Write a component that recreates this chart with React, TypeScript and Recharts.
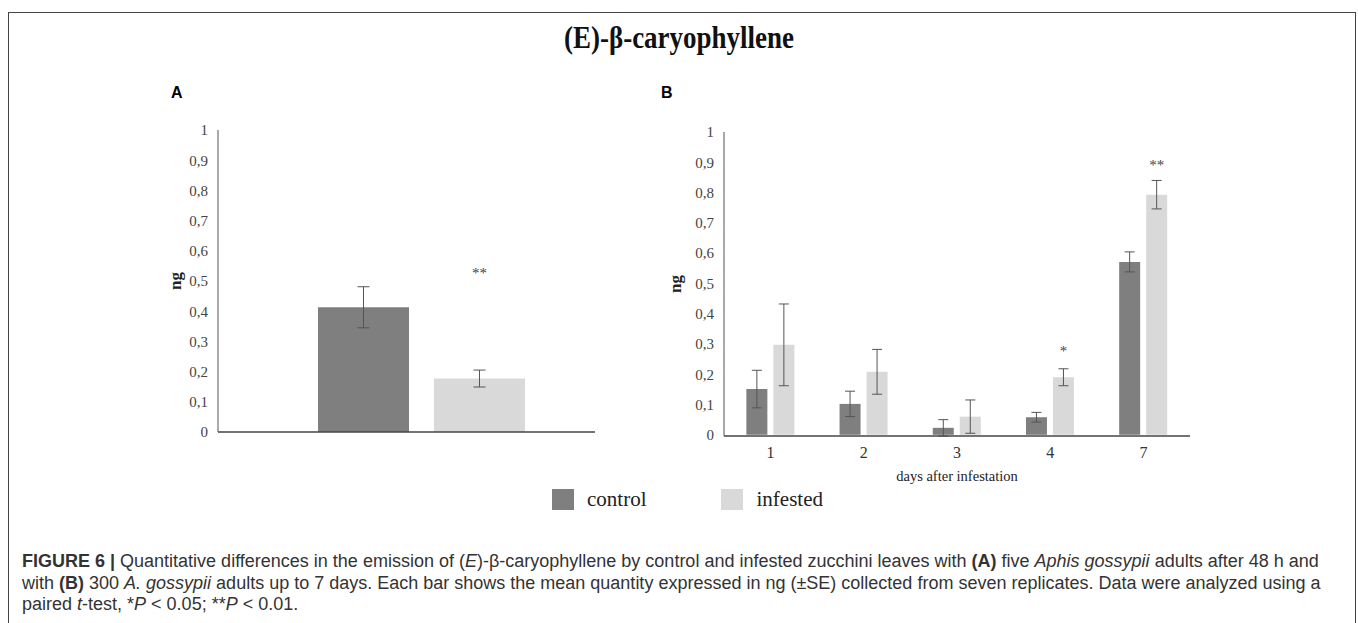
import { BarChart, Bar, XAxis, YAxis, ErrorBar, LabelList } from "recharts";

// panel A: single time point (48 h)
const panelACategories = ["48 h"];
const panelAControl = [0.413];
const panelAControlSE = [0.068];
const panelAInfested = [0.177];
const panelAInfestedSE = [0.028];
const panelASig = ["**"];
const panelASigY = [0.525];

// panel B: days after infestation
const panelBDays = ["1", "2", "3", "4", "7"];
const panelBControl = [0.151, 0.102, 0.023, 0.058, 0.571];
const panelBControlSE = [0.062, 0.042, 0.027, 0.016, 0.033];
const panelBInfested = [0.297, 0.208, 0.06, 0.19, 0.793];
const panelBInfestedSE = [0.135, 0.074, 0.055, 0.028, 0.047];
const panelBSig = ["", "", "", "*", "**"];
const panelBSigY = [0, 0, 0, 0.277, 0.89];

const yTicks = [0, 0.1, 0.2, 0.3, 0.4, 0.5, 0.6, 0.7, 0.8, 0.9, 1];
const seriesNames = ["control", "infested"];
const seriesColors = ["#7f7f7f", "#d9d9d9"];

const serif = "'Liberation Serif', 'Times New Roman', serif";
const sans = "'Liberation Sans', Arial, sans-serif";

const fmtTick = (v: number) =>
  v === 0 || v === 1 ? String(v) : v.toFixed(1).replace(".", ",");

const buildRows = (
  cats: string[],
  c: number[],
  cse: number[],
  inf: number[],
  ise: number[],
  sig: string[]
) =>
  cats.map((cat, i) => ({
    cat,
    control: c[i],
    controlSE: cse[i],
    infested: inf[i],
    infestedSE: ise[i],
    sig: sig[i],
  }));

const dataA = buildRows(
  panelACategories,
  panelAControl,
  panelAControlSE,
  panelAInfested,
  panelAInfestedSE,
  panelASig
);
const dataB = buildRows(
  panelBDays,
  panelBControl,
  panelBControlSE,
  panelBInfested,
  panelBInfestedSE,
  panelBSig
);

// star label placed at its own y value, using the bar's pixel/value ratio
const sigLabel = (values: number[], sigY: number[]) => (props: any) => {
  const i = props.index ?? 0;
  const vb = props.viewBox || props;
  const { x, y, width, height } = vb;
  const text = props.value;
  if (!text || !values[i]) return null;
  const perUnit = height / values[i];
  const py = y + height - sigY[i] * perUnit;
  return (
    <text
      x={x + width / 2}
      y={py + 5}
      textAnchor="middle"
      fontFamily={serif}
      fontSize={15}
      fill="#444"
    >
      {text}
    </text>
  );
};

const tickStyle = { fontFamily: serif, fontSize: 15, fill: "#444" };

const ngLabel = {
  value: "ng",
  angle: -90,
  position: "insideLeft" as const,
  offset: 25,
  style: { fontFamily: serif, fontSize: 17, fontWeight: "bold", fill: "#222", textAnchor: "middle" },
};

export default function App() {
  return (
    <div
      style={{
        position: "absolute",
        left: 0,
        top: 0,
        width: 1358,
        height: 623,
        overflow: "hidden",
        background: "#fff",
      }}
    >
      <div
        style={{
          position: "absolute",
          left: 8,
          top: 12,
          width: 1346,
          height: 640,
          border: "1px solid #444",
        }}
      />
      <div
        style={{
          position: "absolute",
          left: 0,
          width: 1358,
          top: 20,
          textAlign: "center",
          fontFamily: serif,
          fontWeight: "bold",
          fontSize: 31,
          lineHeight: "36px",
          color: "#111",
          transform: "scaleX(0.87)",
        }}
      >
        (E)-β-caryophyllene
      </div>
      <div style={{ position: "absolute", left: 171, top: 84, fontFamily: sans, fontWeight: "bold", fontSize: 16 }}>A</div>
      <div style={{ position: "absolute", left: 661, top: 84, fontFamily: sans, fontWeight: "bold", fontSize: 16 }}>B</div>

      <div style={{ position: "absolute", left: 150, top: 110 }}>
        <BarChart
          width={460}
          height={340}
          data={dataA}
          margin={{ top: 20, right: 15, left: 0, bottom: 8 }}
          barCategoryGap={71}
          barGap={25}
        >
          <XAxis
            dataKey="cat"
            tick={false}
            tickLine={false}
            height={10}
            padding={{ left: 29, right: 0 }}
            axisLine={{ stroke: "#444", strokeWidth: 1.5 }}
          />
          <YAxis
            domain={[0, 1]}
            ticks={yTicks}
            tickFormatter={fmtTick}
            tick={tickStyle}
            fontSize={15}
            fontFamily={serif}
            tickLine={false}
            tickMargin={4}
            width={68}
            axisLine={{ stroke: "#555" }}
            label={ngLabel}
          />
          <Bar dataKey="control" name={seriesNames[0]} fill={seriesColors[0]} isAnimationActive={false}>
            <ErrorBar dataKey="controlSE" width={6} stroke="#555" strokeWidth={1} />
          </Bar>
          <Bar dataKey="infested" name={seriesNames[1]} fill={seriesColors[1]} isAnimationActive={false}>
            <ErrorBar dataKey="infestedSE" width={6} stroke="#555" strokeWidth={1} />
            <LabelList dataKey="sig" content={sigLabel(panelAInfested, panelASigY)} />
          </Bar>
        </BarChart>
      </div>

      <div style={{ position: "absolute", left: 650, top: 110 }}>
        <BarChart
          width={550}
          height={376}
          data={dataB}
          margin={{ top: 22, right: 10, left: 0, bottom: 0 }}
          barCategoryGap="24%"
          barGap={6}
        >
          <XAxis
            dataKey="cat"
            tick={{ fontFamily: serif, fontSize: 16, fill: "#333" }}
            tickLine={false}
            tickMargin={5}
            height={50}
            axisLine={{ stroke: "#444", strokeWidth: 1.5 }}
            label={{
              value: "days after infestation",
              position: "insideBottom",
              offset: 5,
              style: { fontFamily: serif, fontSize: 14.5, fill: "#222" },
            }}
          />
          <YAxis
            domain={[0, 1]}
            ticks={yTicks}
            tickFormatter={fmtTick}
            tick={tickStyle}
            fontSize={15}
            fontFamily={serif}
            tickLine={false}
            tickMargin={4}
            width={74}
            axisLine={{ stroke: "#555" }}
            label={ngLabel}
          />
          <Bar dataKey="control" name={seriesNames[0]} fill={seriesColors[0]} isAnimationActive={false}>
            <ErrorBar dataKey="controlSE" width={5} stroke="#555" strokeWidth={1} />
          </Bar>
          <Bar dataKey="infested" name={seriesNames[1]} fill={seriesColors[1]} isAnimationActive={false}>
            <ErrorBar dataKey="infestedSE" width={5} stroke="#555" strokeWidth={1} />
            <LabelList dataKey="sig" content={sigLabel(panelBInfested, panelBSigY)} />
          </Bar>
        </BarChart>
      </div>

      <div
        style={{
          position: "absolute",
          left: 552,
          top: 487,
          display: "flex",
          alignItems: "center",
          fontFamily: serif,
          fontSize: 21,
          color: "#222",
        }}
      >
        {seriesNames.map((n, i) => (
          <div key={n} style={{ display: "flex", alignItems: "center", marginRight: i === 0 ? 75 : 0 }}>
            <div style={{ width: 22, height: 21, background: seriesColors[i], marginRight: 13 }} />
            <span>{n}</span>
          </div>
        ))}
      </div>

      <div
        style={{
          position: "absolute",
          left: 22,
          top: 551,
          width: 1330,
          whiteSpace: "nowrap",
          fontFamily: sans,
          fontSize: 18,
          lineHeight: "21.5px",
          color: "#333",
        }}
      >
        <b>FIGURE 6 |</b> Quantitative differences in the emission of (<i>E</i>)-β-caryophyllene by control and
        infested zucchini leaves with <b>(A)</b> five <i>Aphis gossypii</i> adults after 48 h and
        <br />
        with <b>(B)</b> 300 <i>A. gossypii</i> adults up to 7 days. Each bar shows the mean quantity expressed in ng
        (±SE) collected from seven replicates. Data were analyzed using a
        <br />
        paired <i>t</i>-test, *<i>P</i> &lt; 0.05; **<i>P</i> &lt; 0.01.
      </div>
    </div>
  );
}
